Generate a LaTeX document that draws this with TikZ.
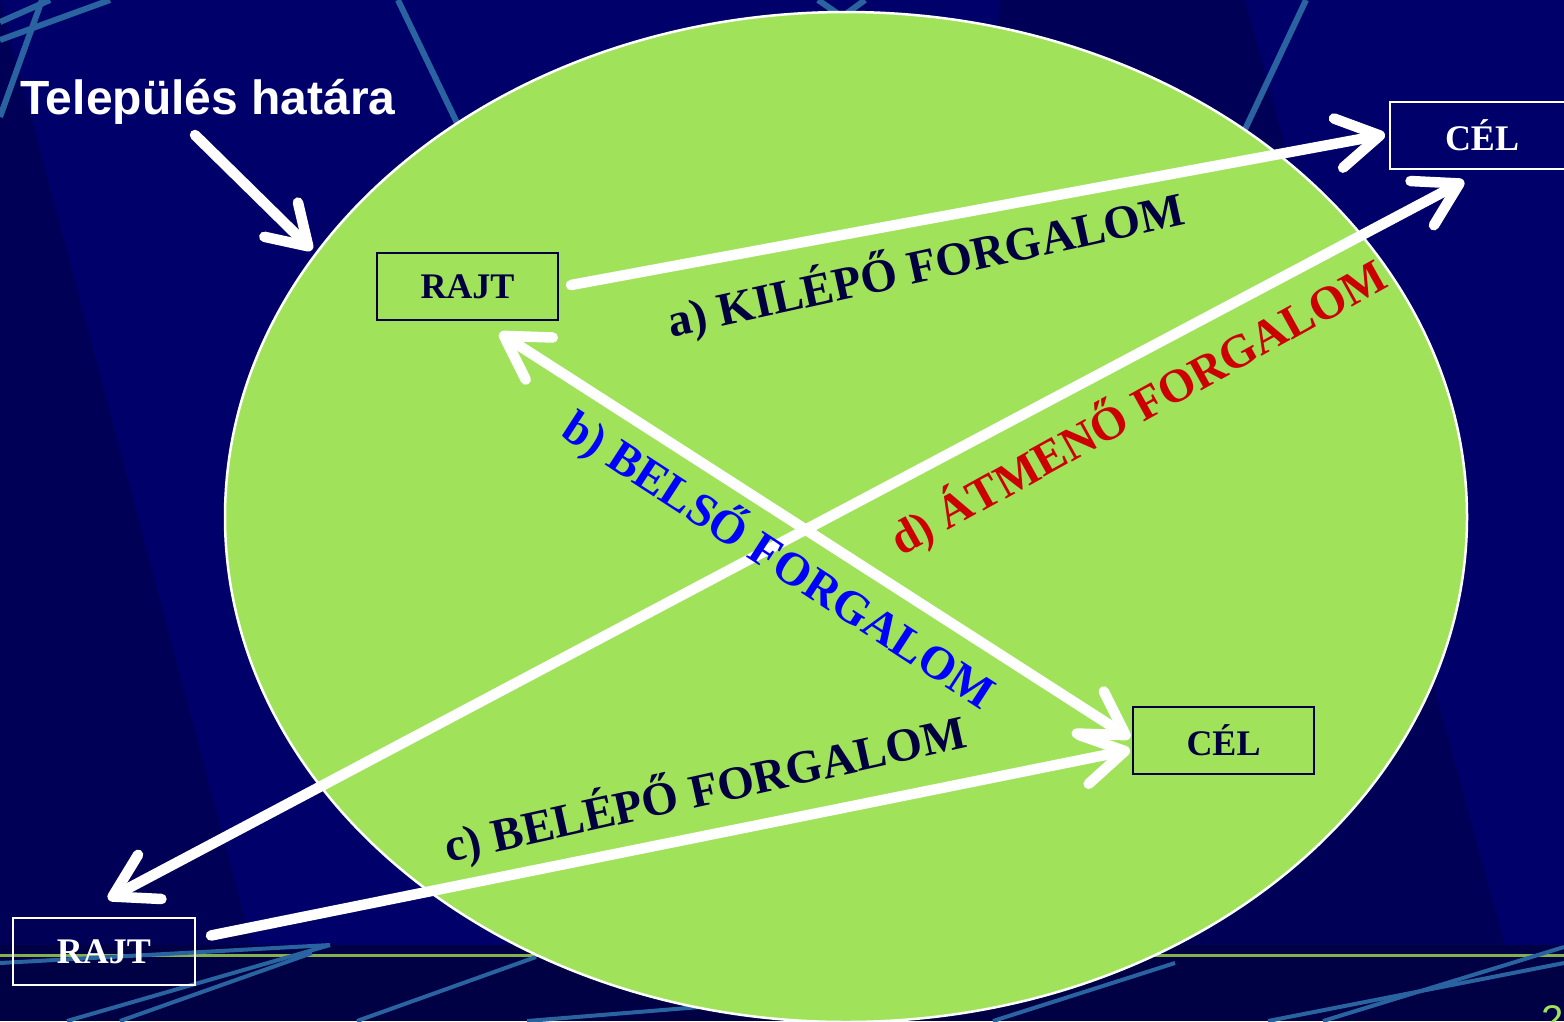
\documentclass[tikz,border=0pt]{standalone}
\usepackage{fontspec}
\setmainfont{Liberation Serif}
\newfontfamily\arialfont{Liberation Sans}
\usetikzlibrary{arrows.meta,shapes.geometric,calc}
\definecolor{bgnavy}{RGB}{0,0,106}
\definecolor{bgdark}{RGB}{0,0,86}
\definecolor{banddark}{RGB}{0,0,68}
\definecolor{ellgreen}{RGB}{160,226,90}
\definecolor{navytext}{RGB}{0,0,64}
\definecolor{lblblue}{RGB}{0,0,255}
\definecolor{lblred}{RGB}{204,0,0}
\definecolor{decoblue}{RGB}{42,100,160}
\definecolor{greenline}{RGB}{130,178,78}
\begin{document}
\begin{tikzpicture}[x=1pt,y=-1pt,
  box/.style={draw, line width=2pt, minimum width=181pt, minimum height=67pt, inner sep=0pt,
    font=\fontsize{36}{40}\selectfont\bfseries},
  lbl/.style={font=\fontsize{47}{52}\selectfont\bfseries, inner sep=0pt},
  flow/.style={draw=white, line width=10.5pt, line cap=round,
    -{Straight Barb[length=42pt,width=50pt,round]}},
  twoway/.style={flow, {Straight Barb[length=42pt,width=50pt,round]}-{Straight Barb[length=42pt,width=50pt,round]}},
  deco/.style={draw=decoblue, line width=6pt},
]
\useasboundingbox (0,0) rectangle (1564,1021);
\clip (0,0) rectangle (1564,1021);
% background
\fill[bgnavy] (0,0) rectangle (1564,1021);
\fill[bgdark] (0,0) -- (252,945) -- (0,945) -- cycle;
\fill[bgdark] (1000,0) -- (1245,0) -- (1505,945) -- (900,945) -- cycle;
\fill[banddark] (0,945) rectangle (1564,1021);
\draw[greenline, line width=3pt] (0,955) -- (1564,955);
% decorative lines
\draw[deco] (0,22) -- (50,0);
\draw[deco] (0,40) -- (110,0);
\draw[deco] (42,0) -- (0,117);
\draw[deco] (398,0) -- (470,150);
\draw[deco] (818,0) -- (850,22);
\draw[deco] (865,0) -- (835,22);
\draw[deco] (1306,0) -- (1240,140);
\draw[deco, line width=4pt] (0,963) -- (330,945);
\draw[deco, line width=4pt] (67,1021) -- (330,945);
\draw[deco, line width=4pt] (120,1021) -- (312,953);
\draw[deco, line width=4pt] (357,1021) -- (536,957);
\draw[deco, line width=4pt] (527,1021) -- (700,1007);
\draw[deco, line width=4pt] (993,1021) -- (1175,963);
\draw[deco, line width=4pt] (1268,1021) -- (1564,963);
\draw[deco, line width=4pt] (1323,1021) -- (1564,947);
% town boundary
\node[ellipse, fill=ellgreen, draw=white, line width=2.5pt, minimum width=1242pt,
  minimum height=1010pt, inner sep=0pt] (town) at (846,517) {};
% title
\node[font=\arialfont\bfseries\fontsize{48}{54}\selectfont, text=white, anchor=base west,
  inner sep=0pt] (title) at (20,114) {Település határa};
\coordinate (titlefrom) at (195,135);
\coordinate (bordertip) at (312,250);
\draw[flow, -{Straight Barb[length=38pt,width=48pt,round]}] (titlefrom) -- (bordertip);
% boxes
\node[box, draw=navytext, text=navytext] (rajt1) at (467.5,286.5) {RAJT};
\node[box, draw=white, text=white, minimum width=184pt] (cel1) at (1482,135.5) {CÉL};
\node[box, draw=navytext, text=navytext] (cel2) at (1223.5,740) {CÉL};
\node[box, draw=white, text=white, minimum width=182pt] (rajt2) at (104,951.5) {RAJT};
% connectors
\draw[flow] ($(rajt1.east)+(12,-1.5)$) -- ($(cel1.west)+(-4,-1)$);
\draw[twoway] ($(rajt1.south)+(32,12)$) -- ($(cel2.west)+(-2,-2)$);
\draw[flow] ($(rajt2.east)+(15,-16)$) -- ($(cel2.west)+(-2,10)$);
\draw[twoway] ($(rajt2.north)+(4,-18)$) -- ($(cel1.south)+(-18,11)$);
% labels
\node[lbl, text=navytext, rotate=12.4] (la) at (926,266) {a) KILÉPŐ FORGALOM};
\node[lbl, text=lblblue, rotate=-33] (lb) at (779,560) {b) BELSŐ FORGALOM};
\node[lbl, text=navytext, rotate=12.5] (lc) at (705,790) {c) BELÉPŐ FORGALOM};
\node[lbl, text=lblred, rotate=29] (ld) at (1138,408) {d) ÁTMENŐ FORGALOM};
% slide number
\node[font=\arialfont\fontsize{40}{44}\selectfont, text=ellgreen, anchor=north west,
  inner sep=0pt] (pagenum) at (1541,1005) {2};
\end{tikzpicture}
\end{document}
